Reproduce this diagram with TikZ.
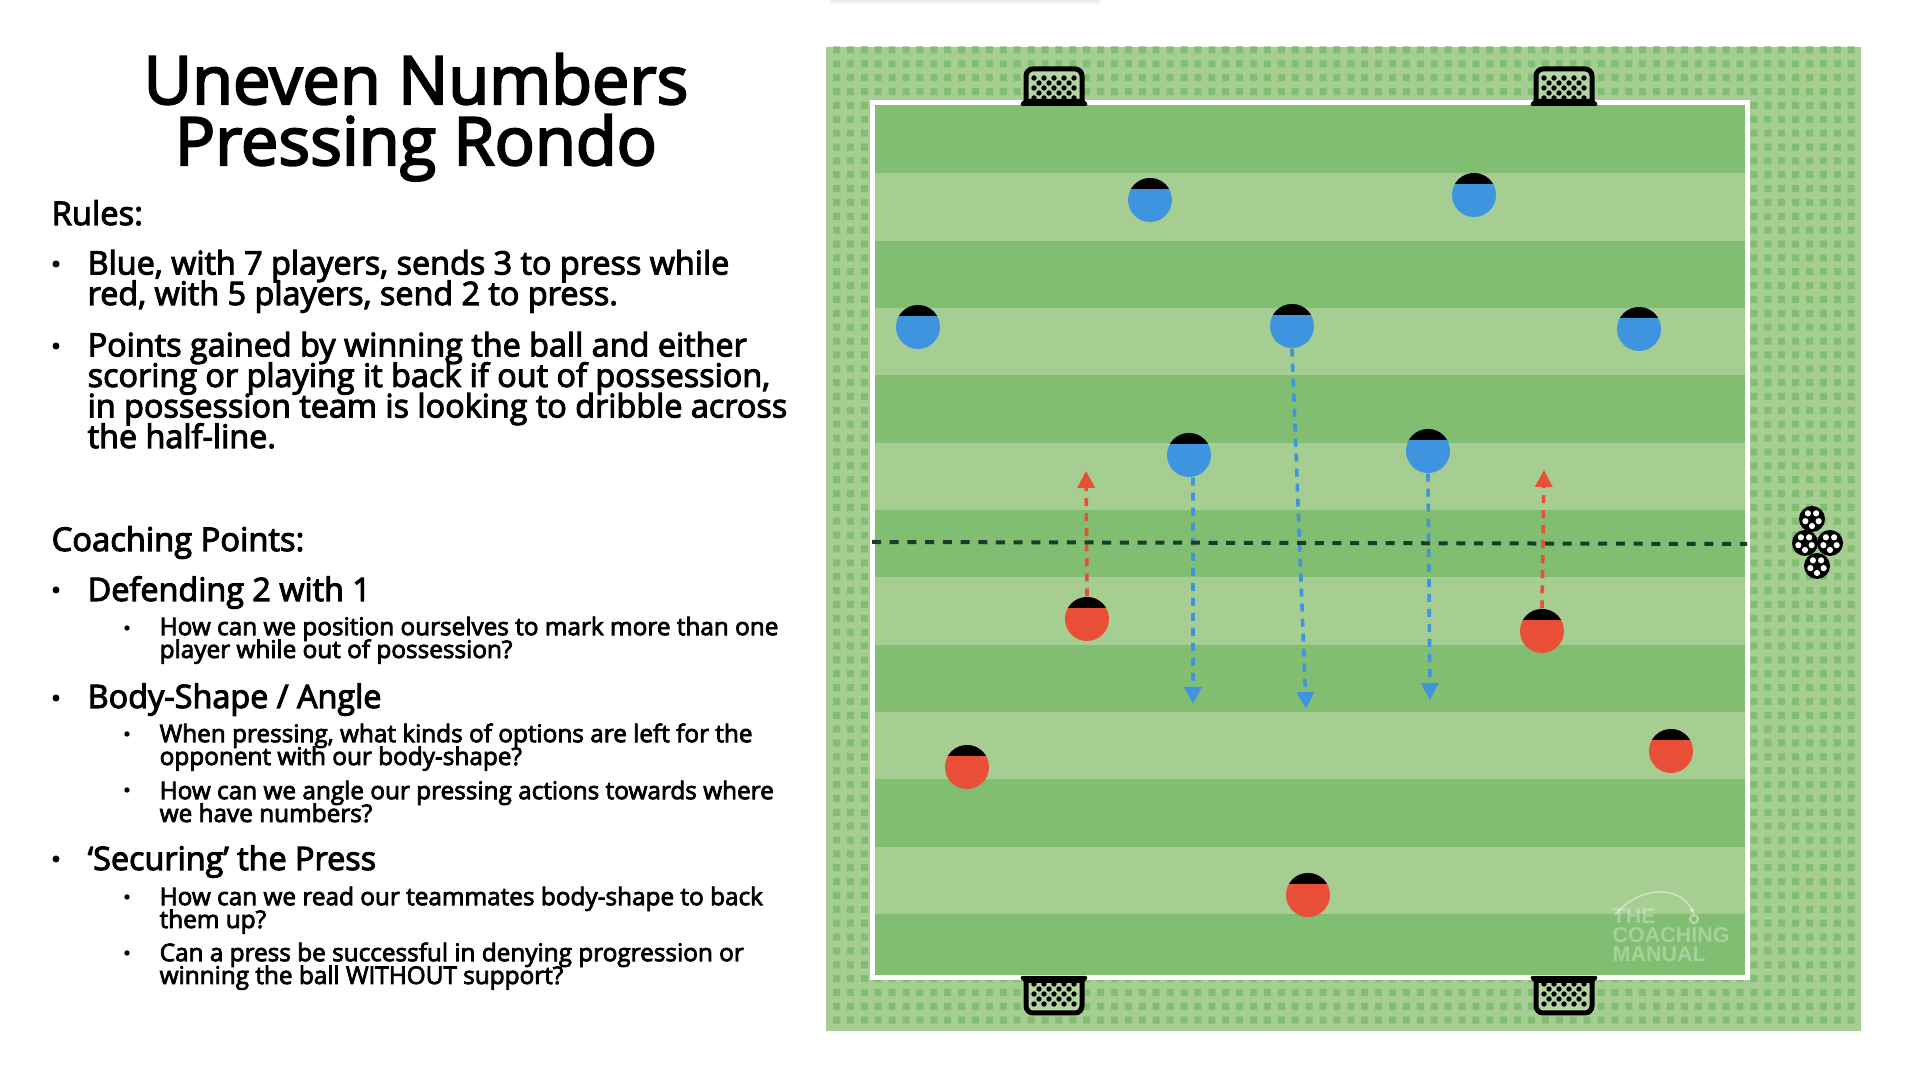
\documentclass[tikz,border=0pt]{standalone}
\usepackage{fontspec}
\setmainfont[FakeBold=3.2]{Open Sans}
\newfontfamily\logofont{Liberation Sans}
\usetikzlibrary{arrows.meta}
\definecolor{pitchdark}{HTML}{82BE72}
\definecolor{pitchlight}{HTML}{A6CE92}
\definecolor{teamblue}{HTML}{3E94DE}
\definecolor{teamred}{HTML}{E94F37}
\definecolor{dashdark}{HTML}{1F3A2A}
\lineskiplimit=-10pt
\begin{document}
\begin{tikzpicture}[x=0.01cm,y=-0.01cm,
  titletext/.style={anchor=base,inner sep=0pt,align=center,font=\fontsize{18.95}{17.35}\selectfont},
  headtext/.style={anchor=base west,inner sep=0pt,font=\fontsize{9.3}{8.68}\selectfont},
  maintext/.style={anchor=base west,inner sep=0pt,align=left,font=\fontsize{9.2}{8.68}\selectfont},
  subtext/.style={anchor=base west,inner sep=0pt,align=left,font=\fontsize{6.92}{6.49}\selectfont},
  player/.style={circle,fill=#1,minimum size=0.44cm,inner sep=0pt,
    path picture={\fill[black] (path picture bounding box.north west) rectangle ([yshift=0.11cm]path picture bounding box.east);}},
  run/.style={-{Triangle[length=0.17cm,width=0.17cm]},#1,line width=0.036cm,dash pattern=on 0.08cm off 0.07cm},
  goal/.pic={
    \fill[pitchlight!85!white] (-28,-2) rectangle (28,-34);
    \foreach \i in {-2,...,2} \foreach \j in {0,2,4} \fill (\i*10,-3-\j*5-2) circle (2.7);
    \foreach \i in {-2,...,1} \foreach \j in {1,3} \fill (\i*10+5,-3-\j*5-2) circle (2.7);
    \draw[line width=0.05cm,rounded corners=2pt] (-28,0) -- (-28,-34) -- (28,-34) -- (28,0);
    \fill[rounded corners=1pt] (-35,3) -- (-30,-4) -- (30,-4) -- (35,3) -- cycle;},
  ball/.pic={
    \fill[black] (0,0) circle (13);
    \foreach \a in {90,162,234,306,18} \fill[white] (\a:7) circle (3.1);}]
\useasboundingbox (0,0) rectangle (1920,1080);
\shade[top color=black!8,bottom color=white] (830,0) rectangle (1100,5);
\node[titletext] (title) at (416,165) {Uneven Numbers\\Pressing Rondo};
\node[headtext] (rules) at (51,225) {Rules:};
\node[maintext] (ruleone) at (87,305) {Blue, with 7 players, sends 3 to press while\\red, with 5 players, send 2 to press.};
\node[maintext] (ruletwo) at (87,448) {Points gained by winning the ball and either\\scoring or playing it back if out of possession,\\in possession team is looking to dribble across\\the half-line.};
\node[headtext] (points) at (51,551) {Coaching Points:};
\node[maintext] (defend) at (87,601) {Defending 2 with 1};
\node[subtext] (defendq) at (159,658) {How can we position ourselves to mark more than one\\player while out of possession?};
\node[maintext] (shape) at (87,708) {Body-Shape / Angle};
\node[subtext] (shapeq) at (159,765) {When pressing, what kinds of options are left for the\\opponent with our body-shape?};
\node[subtext] (angleq) at (159,822) {How can we angle our pressing actions towards where\\we have numbers?};
\node[maintext] (secure) at (87,870) {‘Securing’ the Press};
\node[subtext] (secureq) at (159,928) {How can we read our teammates body-shape to back\\them up?};
\node[subtext] (denyq) at (159,984) {Can a press be successful in denying progression or\\winning the ball WITHOUT support?};
\foreach \y in {264,346,590,698,859} \fill (56,\y) circle (3.5);
\foreach \y in {628,734,790,897,953} \fill (127,\y) circle (2.7);
\fill[pitchlight] (826,47) rectangle (1861,1031);
\fill[pitchdark] \foreach \i in {0,...,73} { \foreach \j in {0,...,70} { ({836.5+\i*13.9-3.5},{50+\j*13.86-3.5}) rectangle ++(7,7) } };
\fill[pitchdark] (872,103) rectangle (1747,978);
\foreach \i in {1,3,...,11} \fill[pitchlight] (872,{106+\i*67.35}) rectangle (1747,{106+(\i+1)*67.35});
\draw[white,line width=0.05cm] (872,103) rectangle (1747,978);
\pic at (1054,103) {goal};
\pic at (1564,103) {goal};
\pic[yscale=-1] at (1054,979) {goal};
\pic[yscale=-1] at (1564,979) {goal};
\node[player=teamblue] (blueA) at (1150,200) {};
\node[player=teamblue] (blueB) at (1474,195) {};
\node[player=teamblue] (blueC) at (918,327) {};
\node[player=teamblue] (blueD) at (1292,326) {};
\node[player=teamblue] (blueE) at (1639,329) {};
\node[player=teamblue] (blueF) at (1189,455) {};
\node[player=teamblue] (blueG) at (1428,451) {};
\node[player=teamred] (redA) at (1087,619) {};
\node[player=teamred] (redB) at (1542,631) {};
\node[player=teamred] (redC) at (967,767) {};
\node[player=teamred] (redD) at (1671,751) {};
\node[player=teamred] (redE) at (1308,895) {};
\coordinate (tipA) at (1086,471);
\coordinate (tipB) at (1544,470);
\coordinate (tipC) at (1193,704);
\coordinate (tipD) at (1306,709);
\coordinate (tipE) at (1430,700);
\coordinate (halfL) at (872,542);
\coordinate (halfR) at (1747,544);
\draw[run=teamred] (redA.north) -- (tipA);
\draw[run=teamred] (redB.north) -- (tipB);
\draw[run=teamblue] ([xshift=0.04cm]blueF.south) -- (tipC);
\draw[run=teamblue] (blueD.south) -- (tipD);
\draw[run=teamblue] (blueG.south) -- (tipE);
\draw[dashdark,line width=0.04cm,dash pattern=on 0.09cm off 0.087cm] (halfL) -- (halfR);
\pic at (1812,519) {ball};
\pic at (1805,543) {ball};
\pic at (1830,543) {ball};
\pic at (1817,566) {ball};
\node[anchor=base west,inner sep=0pt,align=left,text=white,opacity=0.3,font=\logofont\bfseries\fontsize{6.1}{5.45}\selectfont] (logo) at (1612,962) {THE\\COACHING\\MANUAL};
\node[circle,draw=white,opacity=0.45,line width=0.02cm,minimum size=0.08cm,inner sep=0pt] (logoball) at (1694,919) {};
\draw[-{Stealth[length=0.07cm]},white,opacity=0.45,line width=0.015cm] (1615,915) .. controls (1640,885) and (1680,885) .. (logoball.north);
\end{tikzpicture}
\end{document}
